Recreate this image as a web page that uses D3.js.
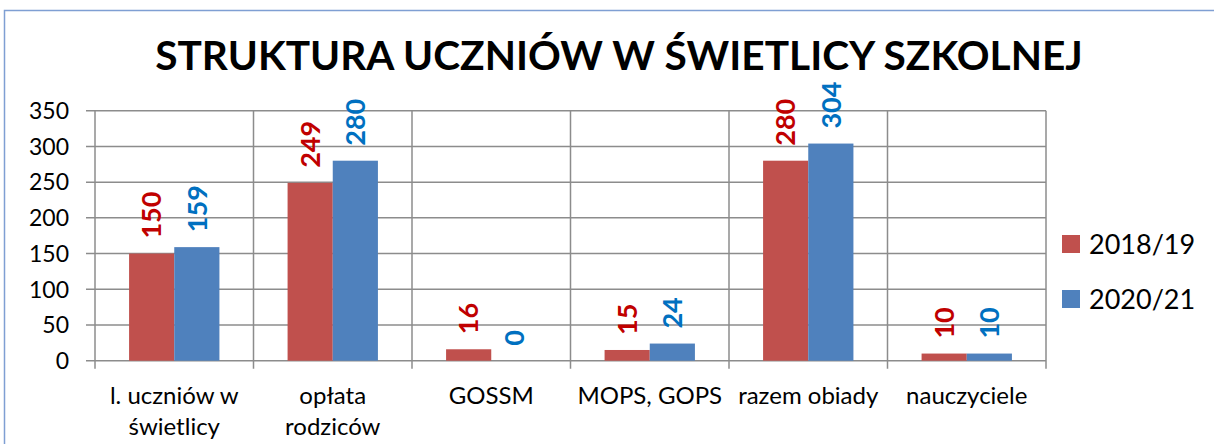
<!DOCTYPE html>
<html>
<head>
<meta charset="utf-8">
<script src="https://cdnjs.cloudflare.com/ajax/libs/d3/7.8.5/d3.min.js"></script>
<style>
body { margin: 0; background: #fff; }
text { font-family: Lato, "Open Sans", sans-serif; }
</style>
</head>
<body>
<svg id="chart"></svg>
<script>
// data
var categories = ["l. uczniów w świetlicy", "opłata rodziców", "GOSSM", "MOPS, GOPS", "razem obiady", "nauczyciele"]
var categoryLines = [["l. uczniów w", "świetlicy"], ["opłata", "rodziców"], ["GOSSM"], ["MOPS, GOPS"], ["razem obiady"], ["nauczyciele"]]
var seriesNames = ["2018/19", "2020/21"]
var values1819 = [150, 249, 16, 15, 280, 10]
var values2021 = [159, 280, 0, 24, 304, 10]
var yTicks = [0, 50, 100, 150, 200, 250, 300, 350]
var titleText = "STRUKTURA UCZNIÓW W ŚWIETLICY SZKOLNEJ"

var svgw = 1214
var svgh = 444
var barColors = ["#c0504d", "#4f81bd"]
var labelColors = ["#c00000", "#0070c0"]
var gridColor = "#8c8c8c"

var plot = {left: 95, right: 1046, top: 110.7, bottom: 360.7}

var svg = d3.select("#chart")
    .attr("width", svgw)
    .attr("height", svgh)

// chart frame
svg.append("path")
    .attr("d", "M4.5," + svgh + " L4.5,10.5 L" + svgw + ",10.5")
    .attr("fill", "none")
    .attr("stroke", "#7f9fd3")
    .attr("stroke-width", 1.5)

var xscale = d3.scaleBand()
    .domain(categories)
    .range([plot.left, plot.right])
    .paddingInner(0.43)
    .paddingOuter(0.215)

var xseries = d3.scaleBand()
    .domain(seriesNames)
    .range([0, xscale.bandwidth()])

var yscale = d3.scaleLinear()
    .domain([0, 350])
    .range([plot.bottom, plot.top])

var step = xscale.step()
var boundary = function(c) { return xscale(c) - step * 0.215 }

// horizontal gridlines + ticks
var grid = svg.append("g")
grid.selectAll("line.h")
    .data(yTicks)
    .enter()
    .append("line")
    .attr("x1", plot.left - 9)
    .attr("x2", plot.right)
    .attr("y1", function(d) { return yscale(d) })
    .attr("y2", function(d) { return yscale(d) })
    .attr("stroke", gridColor)
    .attr("stroke-width", 1.5)

// vertical category boundaries
var bounds = categories.map(boundary).concat([plot.right])
grid.selectAll("line.v")
    .data(bounds)
    .enter()
    .append("line")
    .attr("x1", function(d) { return d })
    .attr("x2", function(d) { return d })
    .attr("y1", plot.top)
    .attr("y2", plot.bottom + 8)
    .attr("stroke", gridColor)
    .attr("stroke-width", 1.5)

// y tick labels
svg.append("g").selectAll("text")
    .data(yTicks)
    .enter()
    .append("text")
    .text(function(d) { return d })
    .attr("x", 69)
    .attr("y", function(d) { return yscale(d) })
    .attr("dy", "0.36em")
    .attr("text-anchor", "end")
    .style("font-size", "23px")
    .attr("fill", "#000")

// bars
var allSeries = [values1819, values2021]
allSeries.forEach(function(vals, s) {
    var g = svg.append("g")
    g.selectAll("rect")
        .data(vals)
        .enter()
        .append("rect")
        .attr("x", function(d, i) { return xscale(categories[i]) + xseries(seriesNames[s]) })
        .attr("y", function(d) { return yscale(d) })
        .attr("width", xseries.bandwidth())
        .attr("height", function(d) { return yscale(0) - yscale(d) })
        .attr("fill", barColors[s])

    g.selectAll("text")
        .data(vals)
        .enter()
        .append("text")
        .text(function(d) { return d })
        .attr("transform", function(d, i) {
            var cx = xscale(categories[i]) + xseries(seriesNames[s]) + xseries.bandwidth() / 2
            return "translate(" + cx + "," + (yscale(d) - 15) + ") rotate(-90)"
        })
        .attr("dy", "0.36em")
        .attr("text-anchor", "start")
        .style("font-size", "27px")
        .style("font-weight", "bold")
        .attr("fill", labelColors[s])
})

// category labels
var xl = svg.append("g").selectAll("text")
    .data(categories)
    .enter()
    .append("text")
    .attr("text-anchor", "middle")
    .style("font-size", "24px")
    .attr("fill", "#000")
xl.each(function(c, i) {
    var t = d3.select(this)
    categoryLines[i].forEach(function(line, j) {
        t.append("tspan")
            .attr("x", xscale(c) + xscale.bandwidth() / 2)
            .attr("y", 404 + j * 31)
            .text(line)
    })
})

// title
var title = svg.append("text")
    .text(titleText)
    .attr("x", 619)
    .attr("y", 70)
    .attr("text-anchor", "middle")
    .style("font-weight", "bold")
    .style("font-size", "36px")
var tw = title.node().getComputedTextLength()
title.style("font-size", (36 * 928 / tw) + "px")

// legend
var legend = svg.append("g")
var entries = legend.selectAll("g")
    .data(seriesNames)
    .enter()
    .append("g")
    .attr("transform", function(d, i) { return "translate(1062," + (235 + i * 55) + ")" })
entries.append("rect")
    .attr("width", 18)
    .attr("height", 18)
    .attr("fill", function(d, i) { return barColors[i] })
entries.append("text")
    .text(function(d) { return d })
    .attr("x", 27)
    .attr("y", 9)
    .attr("dy", "0.36em")
    .style("font-size", "27px")
    .attr("fill", "#000")
</script>
</body>
</html>
